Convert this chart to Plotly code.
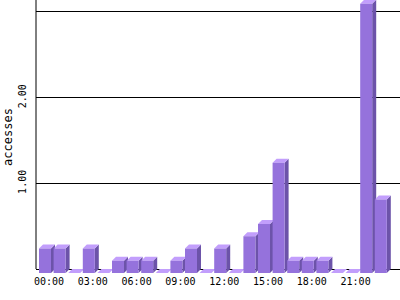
import plotly.graph_objects as go

hours = ["%02d:00" % h for h in range(24)]
accesses = [0.286, 0.286, 0.0, 0.286, 0.0, 0.143, 0.143, 0.143, 0.0, 0.143,
            0.286, 0.0, 0.286, 0.0, 0.429, 0.571, 1.286, 0.143, 0.143, 0.143,
            0.0, 0.0, 3.143, 0.857]
tick_hours = hours[::3]
y_tickvals = [1, 2, 3]
y_ticktext = ["1.00", "2.00", ""]

# layout geometry (pixels)
W, H = 400, 300
L, R, T, B = 36, 0, 0, 26
PX_CAT = 14.6          # pixels per category
PX_UNIT = 85.67        # pixels per 1.0 access
BASE_PX = 269          # baseline pixel row
FIRST_CX = 49          # pixel centre of first bar's back face
HALF_W = 6 / PX_CAT
DX = 4 / PX_CAT
DY = 4 / PX_UNIT

x_range = [(L - FIRST_CX) / PX_CAT, (W - R - FIRST_CX) / PX_CAT]
y_range = [-(H - B - BASE_PX) / PX_UNIT, BASE_PX / PX_UNIT]

fx, fy, tx, ty, sx, sy = [], [], [], [], [], []
for i, v in enumerate(accesses):
    bl, br = i - HALF_W, i + HALF_W
    fl, fr = bl - DX, br - DX
    fb, ft = -DY, v - DY
    # front face
    fx += [fl, fr, fr, fl, fl, None]
    fy += [fb, fb, ft, ft, fb, None]
    # top face
    tx += [fl, fr, br, bl, fl, None]
    ty += [ft, ft, v, v, ft, None]
    # side face
    sx += [fr, br, br, fr, fr, None]
    sy += [fb, 0, v, ft, fb, None]

fig = go.Figure()
fig.add_trace(go.Scatter(x=sx, y=sy, mode="lines", fill="toself",
                         fillcolor="#6C53A9", line=dict(width=0), hoverinfo="skip"))
fig.add_trace(go.Scatter(x=tx, y=ty, mode="lines", fill="toself",
                         fillcolor="#C29EFC", line=dict(width=0), hoverinfo="skip"))
fig.add_trace(go.Scatter(x=fx, y=fy, mode="lines", fill="toself",
                         fillcolor="#9572DC", line=dict(width=0), hoverinfo="skip"))

fig.add_shape(type="line", xref="paper", x0=0, x1=0, yref="y",
              y0=0, y1=y_range[1], line=dict(color="black", width=1))

mono = "DejaVu Sans Mono"
fig.update_layout(
    width=W, height=H, margin=dict(l=L, r=R, t=T, b=B),
    paper_bgcolor="white", plot_bgcolor="white", showlegend=False,
    xaxis=dict(range=x_range, tickmode="array",
               tickvals=list(range(0, 24, 3)), ticktext=tick_hours,
               showgrid=False, zeroline=False, showline=False, ticks="",
               tickfont=dict(family=mono, size=10, color="black")),
    yaxis=dict(range=y_range, tickmode="array", tickvals=y_tickvals,
               ticktext=y_ticktext, tickangle=-90, ticklabelstandoff=7,
               showgrid=True, gridcolor="black", gridwidth=1,
               zeroline=True, zerolinecolor="black", zerolinewidth=1,
               showline=False, ticks="",
               tickfont=dict(family=mono, size=10, color="black"),
               title=dict(text="accesses", standoff=1,
                          font=dict(family=mono, size=12, color="black"))),
)
fig.write_html("out.html")
